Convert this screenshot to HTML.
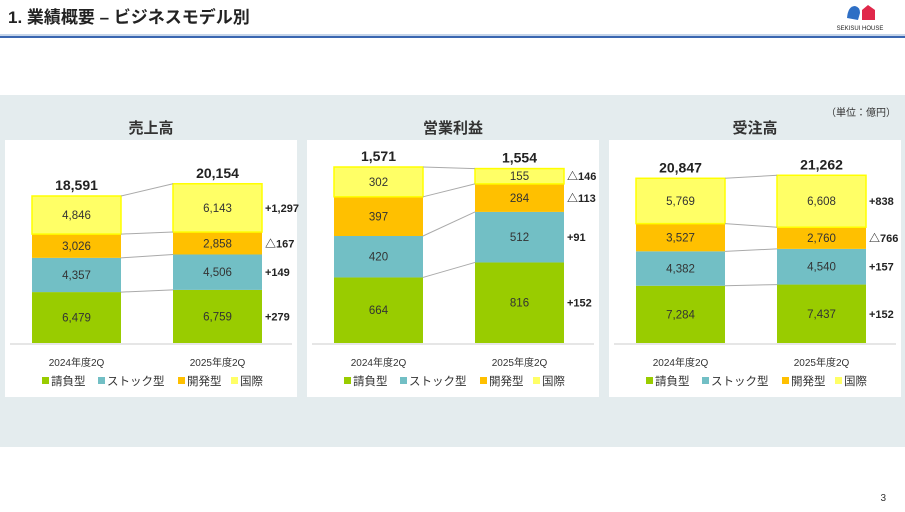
<!DOCTYPE html>
<html><head><meta charset="utf-8">
<style>
body{margin:0;width:905px;height:507px;overflow:hidden;background:#fff;font-family:"Liberation Sans","Noto Sans CJK JP",sans-serif;}
svg text{font-family:"Liberation Sans","Noto Sans CJK JP",sans-serif;}
</style></head><body>
<svg id="s" width="905" height="507" xmlns="http://www.w3.org/2000/svg">
<text x="8" y="23" font-size="17" font-weight="bold" fill="#222">1. 業績概要 – ビジネスモデル別</text>
<rect x="0" y="34" width="905" height="2" fill="#c5d5ea"/>
<rect x="0" y="36" width="905" height="2" fill="#3a66b0"/>
<g>
<path d="M847 18 Q848 6 855 6 Q860 7 860 13 L858 20 Z" fill="#2e6fc5"/>
<path d="M862 20 L862 10 L868 5 L875 10 L875 20 Z" fill="#e0284a"/>
<text x="860" y="30" font-size="6" text-anchor="middle" fill="#222">SEKISUI HOUSE</text>
</g>
<rect x="0" y="95" width="905" height="352" fill="#e4ecee"/>
<text x="896" y="116" font-size="10" text-anchor="end" fill="#333">（単位：億円）</text>
<text x="886" y="501" font-size="10" text-anchor="end" fill="#333">3</text>
<g id="charts"></g>
</svg>
<script>
const categories = ["2024年度2Q","2025年度2Q"];
const segments = ["請負型","ストック型","開発型","国際"];
const salesTotals = ["18,591","20,154"];
const sales2024 = [6479,4357,3026,4846];
const sales2025 = [6759,4506,2858,6143];
const salesDiff = ["+279","+149","△167","+1,297"];
const profitTotals = ["1,571","1,554"];
const profit2024 = [664,420,397,302];
const profit2025 = [816,512,284,155];
const profitDiff = ["+152","+91","△113","△146"];
const orderTotals = ["20,847","21,262"];
const orders2024 = [7284,4382,3527,5769];
const orders2025 = [7437,4540,2760,6608];
const orderDiff = ["+152","+157","△766","+838"];

const colors=["#99cc00","#72bfc5","#ffc000","#ffff66"];
const NS="http://www.w3.org/2000/svg";
const root=document.getElementById('charts');
function mk(tag,attrs,parent,text){const e=document.createElementNS(NS,tag);for(const k in attrs)e.setAttribute(k,attrs[k]);if(text!==undefined)e.textContent=text;parent.appendChild(e);return e;}
function fmt(v){return v.toLocaleString('en-US');}

function chart(px,title,key,a,b,totals,diff,pxPerUnit){
  const g=mk('g',{},root);
  
  
  const panel=mk('rect',{x:px,y:140,width:292,height:257,fill:'#fff'},g);
  
  
  const t=mk('text',{x:px+146,y:133,'font-size':15,'font-weight':'bold','text-anchor':'middle',fill:'#333'},g,title);
  
  
  const base=343, bx=[px+27,px+168], bw=89;
  const ys=y=>base-y*pxPerUnit;
  mk('line',{x1:px+5,x2:px+287,y1:base+1,y2:base+1,stroke:'#ddd','stroke-width':1.5},g);
  const series=[a,b];const tops=[[],[]];
  series.forEach((vals,i)=>{
    let cum=0;tops[i].push(base);
    vals.forEach((v,j)=>{
      const y0=ys(cum),y1=ys(cum+v);cum+=v;tops[i].push(y1);
      const r=mk('rect',{x:bx[i],y:y1,width:bw,height:y0-y1,fill:colors[j],stroke:j==3?'#ffff00':'none','stroke-width':j==3?1.5:0},g);
      
      
      const l=mk('text',{x:bx[i]+bw/2,y:(y0+y1)/2+4,'font-size':11.5,'text-anchor':'middle',fill:'#333'},g,fmt(v));
      
      
      if(i==1){const d=mk('text',{x:bx[1]+bw+3,y:(y0+y1)/2+4,'font-size':11,'font-weight':'bold',fill:'#222'},g,diff[j]);
        
        }
    });
    const tt=mk('text',{x:bx[i]+bw/2,y:ys(cum)-6,'font-size':14,'font-weight':'bold','text-anchor':'middle',fill:'#222'},g,totals[i]);
    
    
    const c=mk('text',{x:bx[i]+bw/2,y:366,'font-size':10,'text-anchor':'middle',fill:'#333'},g,categories[i]);
    
    
  });
  for(let k=1;k<=4;k++){
    const ln=mk('line',{x1:bx[0]+bw,y1:tops[0][k],x2:bx[1],y2:tops[1][k],stroke:'#aaa','stroke-width':1},g);
    
    
  }
  let lx=px+37;
  const legW=[56,80,53,36];
  segments.forEach((s,j)=>{
    const lg=mk('g',{},g);
    
    
    mk('rect',{x:lx,y:377,width:7,height:7,fill:colors[j]},lg);
    mk('text',{x:lx+9,y:385,'font-size':11.5,fill:'#333'},lg,s);
    lx+=legW[j];
  });
}
chart(5,"売上高","sales",sales2024,sales2025,salesTotals,salesDiff,147/18708);
chart(307,"営業利益","profit",profit2024,profit2025,profitTotals,profitDiff,176/1783);
chart(609,"受注高","orders",orders2024,orders2025,orderTotals,orderDiff,147/18708);
</script>
</body></html>
